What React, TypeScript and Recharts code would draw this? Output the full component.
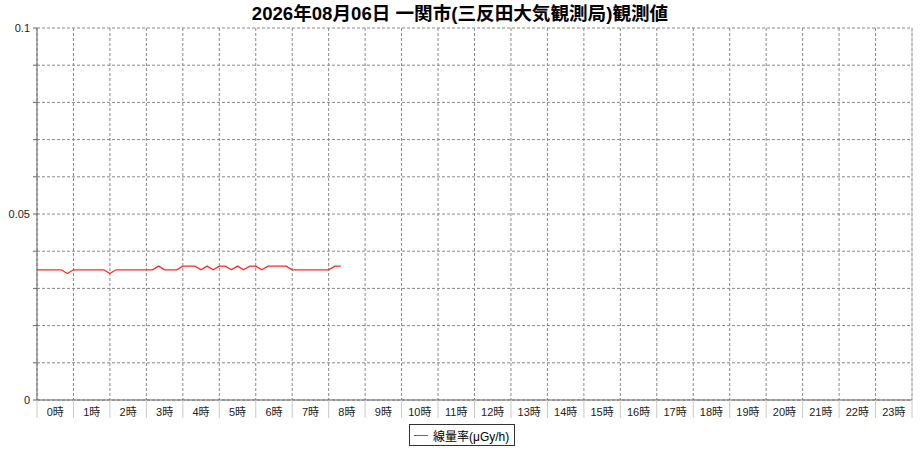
import { LineChart, CartesianGrid, XAxis, YAxis, Line, Legend, ReferenceLine } from "recharts";

// 10-minute readings, 0:00 - 8:20
const TIMES = [
  "0:00", "0:10", "0:20", "0:30", "0:40", "0:50",
  "1:00", "1:10", "1:20", "1:30", "1:40", "1:50",
  "2:00", "2:10", "2:20", "2:30", "2:40", "2:50",
  "3:00", "3:10", "3:20", "3:30", "3:40", "3:50",
  "4:00", "4:10", "4:20", "4:30", "4:40", "4:50",
  "5:00", "5:10", "5:20", "5:30", "5:40", "5:50",
  "6:00", "6:10", "6:20", "6:30", "6:40", "6:50",
  "7:00", "7:10", "7:20", "7:30", "7:40", "7:50",
  "8:00", "8:10", "8:20",
];

const DOSE_RATE = [
  0.035, 0.035, 0.035, 0.035, 0.035, 0.034,
  0.035, 0.035, 0.035, 0.035, 0.035, 0.035,
  0.034, 0.035, 0.035, 0.035, 0.035, 0.035,
  0.035, 0.035, 0.036, 0.035, 0.035, 0.035,
  0.036, 0.036, 0.036, 0.035, 0.036, 0.035,
  0.036, 0.036, 0.035, 0.036, 0.035, 0.036,
  0.036, 0.035, 0.036, 0.036, 0.036, 0.036,
  0.035, 0.035, 0.035, 0.035, 0.035, 0.035,
  0.035, 0.036, 0.036,
];

const HOUR_TICKS = [0, 1, 2, 3, 4, 5, 6, 7, 8, 9, 10, 11, 12, 13, 14, 15, 16, 17, 18, 19, 20, 21, 22, 23, 24];
const LABEL_TICKS = [
  0.5, 1.5, 2.5, 3.5, 4.5, 5.5, 6.5, 7.5, 8.5, 9.5, 10.5, 11.5,
  12.5, 13.5, 14.5, 15.5, 16.5, 17.5, 18.5, 19.5, 20.5, 21.5, 22.5, 23.5,
];
const HOUR_LABELS = [
  "0時", "1時", "2時", "3時", "4時", "5時", "6時", "7時", "8時", "9時", "10時", "11時",
  "12時", "13時", "14時", "15時", "16時", "17時", "18時", "19時", "20時", "21時", "22時", "23時",
];
const Y_TICKS = [0, 0.01, 0.02, 0.03, 0.04, 0.05, 0.06, 0.07, 0.08, 0.09, 0.1];
const Y_LABELS: Record<string, string> = { "0": "0", "0.05": "0.05", "0.1": "0.1" };

const TITLE = "2026年08月06日 一関市(三反田大気観測局)観測値";
const SERIES_NAME = "線量率(μGy/h)";
const LINE_COLOR = "#ff2a1a";
const FONT = "'Liberation Sans', 'Noto Sans CJK JP', sans-serif";

const data = TIMES.map((t, i) => {
  const [h, m] = t.split(":").map(Number);
  return { hour: h + m / 60, dose: DOSE_RATE[i] };
});

function LegendBox() {
  return (
    <div
      style={{
        display: "flex",
        alignItems: "center",
        border: "1px solid #333",
        background: "#fff",
        height: 22,
        padding: "0 5px 0 4px",
        fontFamily: FONT,
        fontSize: 12,
        color: "#000",
        boxSizing: "border-box",
      }}
    >
      <span style={{ display: "inline-block", width: 14, height: 0, borderTop: `1px solid ${LINE_COLOR}`, marginRight: 5 }} />
      <span>{SERIES_NAME}</span>
    </div>
  );
}

export default function App() {
  return (
    <div style={{ position: "absolute", left: 0, top: 0, width: 920, height: 450, background: "#fff", fontFamily: FONT }}>
      <div
        style={{
          position: "absolute",
          top: 3,
          left: 0,
          width: 920,
          textAlign: "center",
          fontSize: 18.6,
          fontWeight: "bold",
          lineHeight: "22px",
          color: "#000",
        }}
      >
        {TITLE}
      </div>
      <LineChart width={920} height={450} data={data} margin={{ top: 28, right: 8, bottom: 30, left: 0 }}>
        <CartesianGrid stroke="#888" strokeDasharray="3 2" />
        <XAxis
          dataKey="hour"
          type="number"
          domain={[0, 24]}
          allowDataOverflow
          ticks={HOUR_TICKS}
          interval={0}
          height={1}
          tick={() => <g />}
          tickSize={18}
          axisLine={{ stroke: "#666" }}
          tickLine={{ stroke: "#c8c8c8" }}
        />
        <XAxis
          xAxisId="labels"
          dataKey="hour"
          type="number"
          domain={[0, 24]}
          allowDataOverflow
          ticks={LABEL_TICKS}
          interval={0}
          height={19}
          axisLine={false}
          tickLine={false}
          tickSize={0}
          tickMargin={7}
          tickFormatter={(v: number) => HOUR_LABELS[Math.floor(v)]}
          tick={{ fontSize: 11, fill: "#222", fontFamily: FONT }}
        />
        <YAxis
          type="number"
          domain={[0, 0.1]}
          ticks={Y_TICKS}
          interval={0}
          width={37}
          tickSize={4}
          tickMargin={3}
          axisLine={{ stroke: "#666" }}
          tickLine={{ stroke: "#666" }}
          tickFormatter={(v: number) => Y_LABELS[String(Math.round(v * 100) / 100)] ?? ""}
          tick={{ fontSize: 11, fill: "#222", fontFamily: FONT }}
        />
        <ReferenceLine x={24} stroke="#c0c0c0" />
        <Line
          type="linear"
          dataKey="dose"
          name={SERIES_NAME}
          stroke={LINE_COLOR}
          strokeWidth={1.3}
          dot={false}
          activeDot={false}
          isAnimationActive={false}
        />
        <Line
          xAxisId="labels"
          dataKey="dose"
          stroke="none"
          dot={false}
          activeDot={false}
          legendType="none"
          isAnimationActive={false}
        />
        <Legend
          layout="horizontal"
          verticalAlign="middle"
          align="center"
          content={() => <LegendBox />}
          wrapperStyle={{ top: 424, left: 409, width: "auto", height: "auto" }}
        />
      </LineChart>
    </div>
  );
}
